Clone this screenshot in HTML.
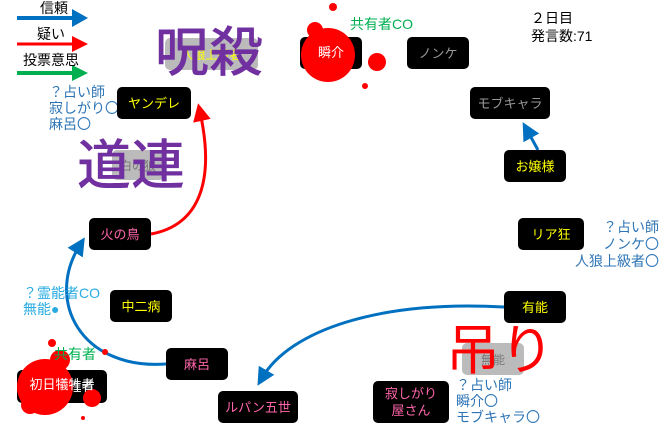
<!DOCTYPE html>
<html><head><meta charset="utf-8"><style>
body{margin:0;width:660px;height:426px;background:#fff;overflow:hidden;position:relative;font-family:"Liberation Sans","Noto Sans CJK JP",sans-serif}
.b{position:absolute;background:#000;border-radius:5px;display:flex;align-items:center;justify-content:center;font-size:13px;line-height:17px;text-align:center}
.g{position:absolute;background:#bbb;border-radius:5px;display:flex;align-items:center;justify-content:center;font-size:12px}
.t{position:absolute;font-size:14px;line-height:16px;white-space:nowrap}
.big{position:absolute;font-size:54px;line-height:56px;white-space:nowrap;font-family:"Noto Sans CJK JP",sans-serif;font-weight:500}
svg{position:absolute;left:0;top:0}
</style></head><body>
<svg width="660" height="426">
<defs>
<marker id="ab" markerWidth="6" markerHeight="6" refX="3" refY="3" orient="auto" markerUnits="strokeWidth"><path d="M0,0 L6,3 L0,6 z" fill="#0070c0"/></marker>
<marker id="ar" markerWidth="6" markerHeight="6" refX="3" refY="3" orient="auto" markerUnits="strokeWidth"><path d="M0,0 L6,3 L0,6 z" fill="#f00"/></marker>
</defs>
<line x1="17" y1="18" x2="80" y2="18" stroke="#0070c0" stroke-width="4"/><path d="M72,9 L88,18 L72,27z" fill="#0070c0"/>
<line x1="17" y1="44" x2="80" y2="44" stroke="#f00" stroke-width="3"/><path d="M72,36 L88,44 L72,52z" fill="#f00"/>
<line x1="17" y1="73" x2="80" y2="73" stroke="#00b050" stroke-width="4"/><path d="M72,65 L88,73 L72,81z" fill="#00b050"/>
<path d="M151,234 C200,225 215,180 200,112" fill="none" stroke="#f00" stroke-width="3" marker-end="url(#ar)"/>
<path d="M166,364 C80,370 45,300 80,245" fill="none" stroke="#0070c0" stroke-width="3" marker-end="url(#ab)"/>
<path d="M504,307 C380,300 290,330 262,378" fill="none" stroke="#0070c0" stroke-width="3" marker-end="url(#ab)"/>
<line x1="538" y1="150" x2="527" y2="130" stroke="#0070c0" stroke-width="3" marker-end="url(#ab)"/>
</svg>
<div class="t" style="left:40px;top:0px;color:#000">信頼</div>
<div class="t" style="left:37px;top:26px;color:#000">疑い</div>
<div class="t" style="left:23px;top:52px;color:#000">投票意思</div>
<div class="g" style="left:165px;top:38px;width:93px;height:32px;color:#ff0">人狼上級者</div>
<div class="big" style="left:155px;top:20px;color:#7030a0">呪殺</div>
<div class="t" style="left:49px;top:84px;color:#2e75b6">？占い師<br>寂しがり〇<br>麻呂〇</div>
<div class="b" style="left:117px;top:87px;width:74px;height:32px;color:#ff0">ヤンデレ</div>
<div class="g" style="left:112px;top:150px;width:52px;height:30px;color:#777">白の狼</div>
<div class="big" style="left:77px;top:133px;color:#7030a0">道連</div>
<div class="b" style="left:89px;top:218px;width:62px;height:32px;color:#ff66aa">火の鳥</div>
<div class="t" style="left:23px;top:285px;color:#29abe2">？霊能者CO<br>無能●</div>
<div class="b" style="left:110px;top:290px;width:62px;height:32px;color:#ff0">中二病</div>
<div class="b" style="left:166px;top:348px;width:62px;height:32px;color:#ff66aa">麻呂</div>
<div class="b" style="left:17px;top:370px;width:90px;height:33px;color:#fff">初日犠牲者</div>
<div class="b" style="left:300px;top:37px;width:62px;height:32px;color:#fff">瞬介</div>
<div class="b" style="left:218px;top:391px;width:80px;height:32px;color:#ff66aa">ルパン五世</div>
<svg width="660" height="426" style="pointer-events:none">
<g fill="#f00">
<circle cx="45" cy="387" r="28"/><circle cx="92" cy="398" r="9"/><circle cx="105" cy="352" r="3"/><circle cx="52" cy="343" r="4"/><circle cx="83" cy="418" r="2"/><circle cx="30" cy="405" r="9"/><circle cx="60" cy="360" r="10"/>
<circle cx="328" cy="55" r="27"/><circle cx="377" cy="62" r="9"/><circle cx="333" cy="7" r="4"/><circle cx="365" cy="86" r="3"/><circle cx="315" cy="30" r="8"/>
</g></svg>
<div class="t" style="left:17px;top:377px;width:90px;text-align:center;color:#fff;font-size:13px">初日犠牲者</div>
<div class="t" style="left:300px;top:45px;width:62px;text-align:center;color:#fff;font-size:13px">瞬介</div>
<div class="t" style="left:54px;top:346px;color:#00b050">共有者</div>
<div class="t" style="left:350px;top:16px;color:#00b050">共有者CO</div>
<div class="b" style="left:407px;top:37px;width:62px;height:32px;color:#999">ノンケ</div>
<div class="b" style="left:470px;top:87px;width:80px;height:32px;color:#999">モブキャラ</div>
<div class="b" style="left:504px;top:150px;width:62px;height:32px;color:#ff0">お嬢様</div>
<div class="t" style="left:531px;top:9px;color:#000;line-height:18px">２日目<br>発言数:71</div>
<div class="b" style="left:518px;top:218px;width:66px;height:32px;color:#ff0">リア狂</div>
<div class="t" style="left:575px;top:219px;color:#2e75b6;line-height:17px;text-align:right">？占い師<br>ノンケ〇<br>人狼上級者〇</div>
<div class="b" style="left:504px;top:291px;width:62px;height:32px;color:#ff0">有能</div>
<div class="g" style="left:462px;top:343px;width:62px;height:32px;color:#777">無能</div>
<div class="big" style="left:446px;top:318px;color:#f00;font-weight:normal">吊り</div>
<div class="b" style="left:373px;top:381px;width:76px;height:42px;color:#ff66aa">寂しがり<br>屋さん</div>
<div class="t" style="left:456px;top:377px;color:#2e75b6;line-height:16px">？占い師<br>瞬介〇<br>モブキャラ〇</div>
</body></html>
